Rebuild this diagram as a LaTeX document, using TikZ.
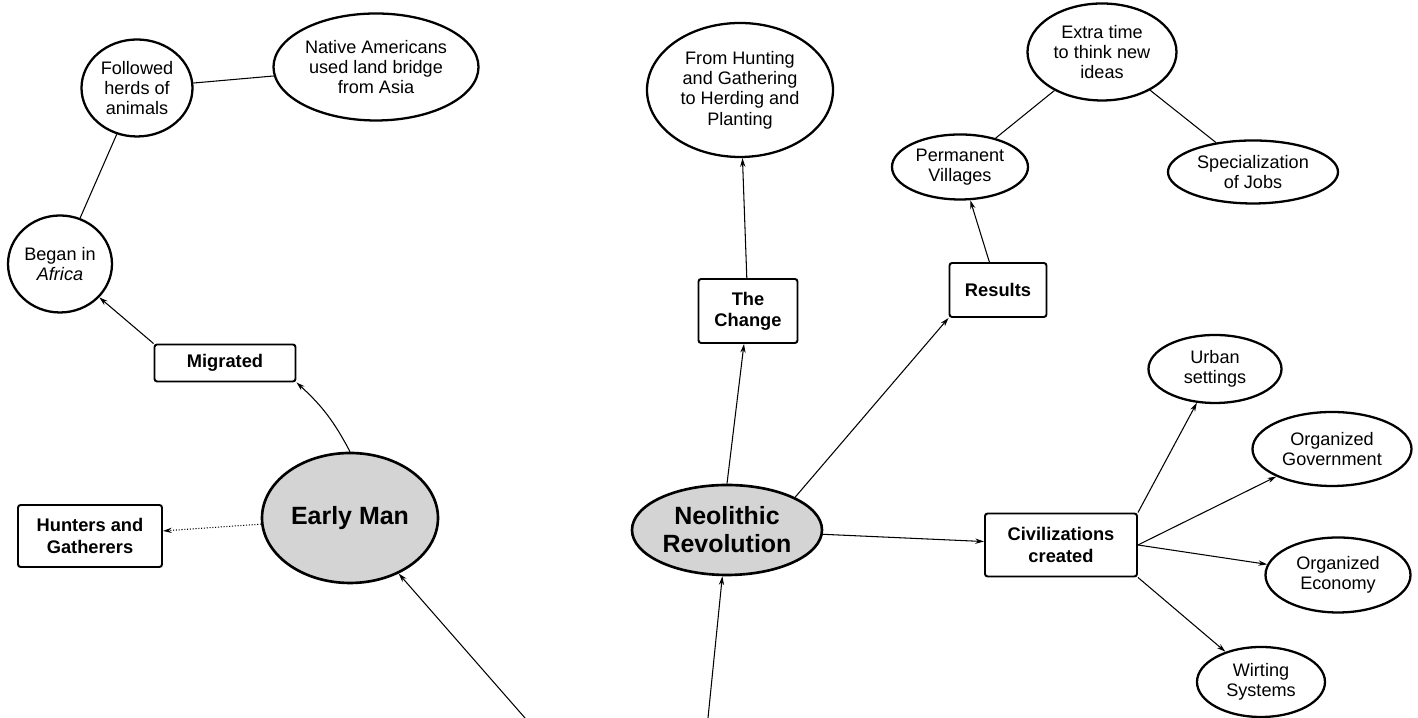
\documentclass[tikz,border=0pt]{standalone}
\usepackage{fontspec}
\setmainfont{Liberation Sans}
\usetikzlibrary{shapes.geometric,arrows.meta}

\begin{document}
\begin{tikzpicture}[
			oval/.style = {ellipse, draw, line width=1.3pt, inner sep=0pt, align=center, font=\fontsize{10.3}{11.6}\selectfont},
			topic/.style = {oval, fill=black!17, line width=1.5pt, font=\fontsize{14.2}{16}\selectfont\bfseries},
			box/.style = {rectangle, draw, rounded corners=1.5pt, line width=1.1pt, inner sep=0pt, align=center, font=\fontsize{10.4}{12}\selectfont\bfseries},
			link/.style = {-{Stealth[length=5pt,width=3pt]}, line width=0.6pt},
			tie/.style = {line width=0.6pt}]
			
			\useasboundingbox (0,0) rectangle (28.36,14.36);
			
			% early man side
			\node[topic, minimum width=3.52cm, minimum height=2.6cm] (earlyman) at (7.0,4.0) {Early Man};
			\node[box, minimum width=2.82cm, minimum height=0.74cm] (migrated) at (4.5,7.1) {Migrated};
			\node[box, minimum width=2.88cm, minimum height=1.24cm] (hunters) at (1.8,3.64) {Hunters and\\Gatherers};
			\node[oval, minimum width=2.08cm, minimum height=1.94cm] (africa) at (1.2,9.08) {Began in\\\textit{Africa}};
			\node[oval, minimum width=2.22cm, minimum height=1.94cm] (herds) at (2.74,12.6) {Followed\\herds of\\animals};
			\node[oval, minimum width=4.1cm, minimum height=2.14cm] (natives) at (7.52,13.02) {Native Americans\\used land bridge\\from Asia};
			
			% neolithic side
			\node[topic, minimum width=3.8cm, minimum height=1.8cm] (neolithic) at (14.54,3.76) {Neolithic\\Revolution};
			\node[box, minimum width=1.98cm, minimum height=1.28cm] (change) at (14.96,8.14) {The\\Change};
			\node[oval, minimum width=3.72cm, minimum height=2.68cm] (hunting) at (14.8,12.56) {From Hunting\\and Gathering\\to Herding and\\Planting};
			\node[box, minimum width=1.94cm, minimum height=1.08cm] (results) at (19.96,8.56) {Results};
			\node[oval, minimum width=2.72cm, minimum height=1.3cm] (villages) at (19.2,11.02) {Permanent\\Villages};
			\node[oval, minimum width=2.98cm, minimum height=1.94cm] (extra) at (22.04,13.32) {Extra time\\to think new\\ideas};
			\node[oval, minimum width=3.4cm, minimum height=1.26cm] (jobs) at (25.06,10.92) {Specialization\\of Jobs};
			\node[box, minimum width=3.04cm, minimum height=1.26cm] (civ) at (21.22,3.46) {Civilizations\\created};
			\node[oval, minimum width=2.66cm, minimum height=1.36cm] (urban) at (24.3,6.98) {Urban\\settings};
			\node[oval, minimum width=3.18cm, minimum height=1.48cm] (govt) at (26.64,5.38) {Organized\\Government};
			\node[oval, minimum width=2.9cm, minimum height=1.5cm] (economy) at (26.76,2.86) {Organized\\Economy};
			\node[oval, minimum width=2.56cm, minimum height=1.4cm] (writing) at (25.22,0.72) {Wirting\\Systems};
			
			% lines coming in from below the page
			\coordinate (below1) at (10.5,0);
			\coordinate (below2) at (14.16,0);
			
			\draw[link] (earlyman.north) to[bend right=10] (migrated.south east);
			\draw[link] (migrated.north west) -- (africa);
			\draw[tie] (africa) -- (herds);
			\draw[tie] (herds) -- (natives);
			\draw[link, densely dotted] (earlyman) -- (hunters);
			\draw[link] (below1) -- (earlyman);
			\draw[link] (below2) -- (neolithic);
			\draw[link] (neolithic.north) -- (change);
			\draw[link] (change) -- (hunting);
			\draw[link] (neolithic.north east) -- (results.south west);
			\draw[link] (results) -- (villages);
			\draw[tie] (villages) -- (extra);
			\draw[tie] (extra) -- (jobs);
			\draw[link] (neolithic) -- (civ);
			\draw[link] (civ.north east) -- (urban);
			\draw[link] (civ.east) -- (govt);
			\draw[link] (civ.east) -- (economy);
			\draw[link] (civ.south east) -- (writing);
\end{tikzpicture}
\end{document}
